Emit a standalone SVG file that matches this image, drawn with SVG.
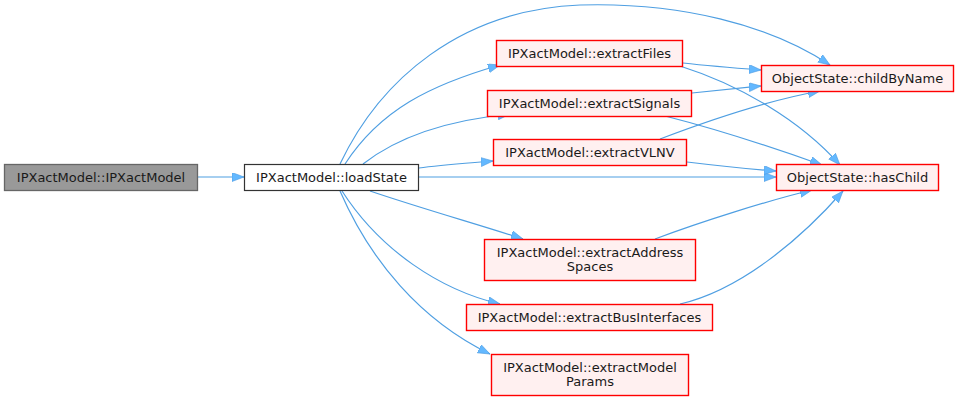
<svg xmlns="http://www.w3.org/2000/svg" width="960" height="400" viewBox="0 0 960 400">
<defs>
<marker id="ah" markerWidth="13" markerHeight="10" refX="12" refY="4.5" orient="auto" markerUnits="userSpaceOnUse">
<path d="M0,0 L12,4.5 L0,9 z" fill="#63B8FF" stroke="#4d9be0" stroke-width="0.6"/>
</marker>
</defs>
<style>
.e{fill:none;stroke:#4f9fe2;stroke-width:1.2;marker-end:url(#ah)}
.n rect{fill:#FFF0F0;stroke:#FF0000;stroke-width:1.4}
text{font-family:"DejaVu Sans",sans-serif;font-size:13px;fill:#1a1a1a;text-anchor:middle}
</style>
<rect width="960" height="400" fill="#fff"/>
<g id="connectors">
<path class="e" d="M198,177 L244,177"/>
<path class="e" d="M340,164 C380,80 460,10 580,5 C680,2 770,25 830,65"/>
<path class="e" d="M345,164 C380,110 430,85 500,65"/>
<path class="e" d="M363,164 C400,135 450,120 510,114"/>
<path class="e" d="M419,168 C440,165 470,163 493,161"/>
<path class="e" d="M419,177 L776,177"/>
<path class="e" d="M370,191 C420,208 480,225 523,239"/>
<path class="e" d="M342,191 C380,250 440,290 500,304"/>
<path class="e" d="M340,191 C370,260 420,320 490,354"/>
<path class="e" d="M683,63 C710,66 735,68 761,70"/>
<path class="e" d="M680,66 C740,85 800,120 840,165"/>
<path class="e" d="M692,93 C720,90 740,88 761,86"/>
<path class="e" d="M665,116 C720,130 780,150 822,165"/>
<path class="e" d="M660,139 C710,120 770,100 820,91"/>
<path class="e" d="M687,162 C720,166 750,169 776,171"/>
<path class="e" d="M655,239 C700,222 770,200 812,190"/>
<path class="e" d="M680,304 C740,290 800,240 843,191"/>
</g>
<g id="IPXactModel_IPXactModel"><rect x="4.5" y="164.5" width="193" height="26" fill="#999999" stroke="#666666" stroke-width="1.3"/><text x="101" y="182">IPXactModel::IPXactModel</text></g>
<g id="loadState"><rect x="244.5" y="164.5" width="174" height="26" fill="#ffffff" stroke="#333333" stroke-width="1.2"/><text x="331.5" y="182">IPXactModel::loadState</text></g>
<g id="extractFiles" class="n"><rect x="496.5" y="40.5" width="186" height="26"/><text x="589.5" y="58">IPXactModel::extractFiles</text></g>
<g id="extractSignals" class="n"><rect x="487.5" y="90.5" width="204" height="26"/><text x="589.5" y="108">IPXactModel::extractSignals</text></g>
<g id="extractVLNV" class="n"><rect x="493.5" y="139.5" width="193" height="26"/><text x="590" y="157">IPXactModel::extractVLNV</text></g>
<g id="extractAddressSpaces" class="n"><rect x="484.5" y="239.5" width="211" height="41"/><text x="590" y="257">IPXactModel::extractAddress</text><text x="590" y="271">Spaces</text></g>
<g id="extractBusInterfaces" class="n"><rect x="466.5" y="304.5" width="246" height="26"/><text x="589.5" y="322">IPXactModel::extractBusInterfaces</text></g>
<g id="extractModelParams" class="n"><rect x="491.5" y="354.5" width="197" height="41"/><text x="590" y="372">IPXactModel::extractModel</text><text x="590" y="386">Params</text></g>
<g id="childByName" class="n"><rect x="761.5" y="65.5" width="192" height="26"/><text x="857.5" y="83">ObjectState::childByName</text></g>
<g id="hasChild" class="n"><rect x="776.5" y="164.5" width="162" height="26"/><text x="857.5" y="182">ObjectState::hasChild</text></g>
</svg>
